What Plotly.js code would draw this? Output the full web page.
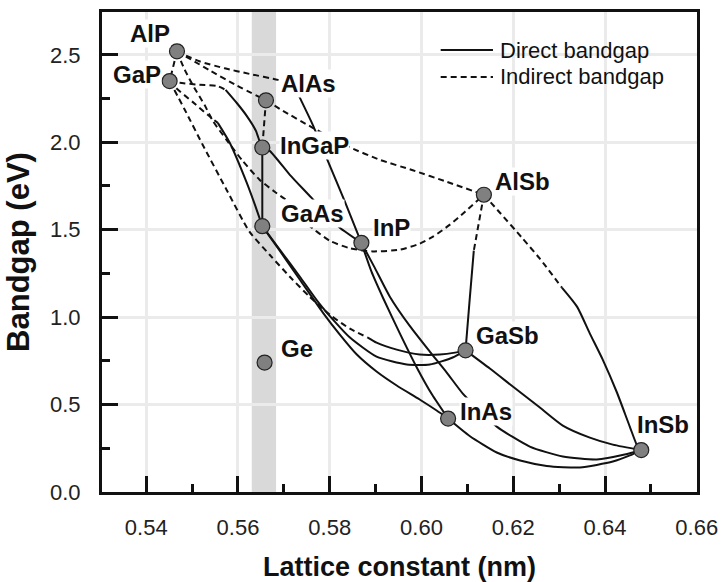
<!DOCTYPE html>
<html>
<head>
<meta charset="utf-8">
<script src="https://cdn.plot.ly/plotly-3.0.1.min.js"></script>
<style>
html,body{margin:0;padding:0;background:#fff;}
#chart{width:721px;height:582px;}
</style>
</head>
<body>
<div id="chart"></div>
<script>
// ---------- data ----------
const compounds  = ['AlP','GaP','AlAs','InGaP','GaAs','InP','AlSb','GaSb','Ge','InAs','InSb'];
const latticeNm  = [0.5467,0.5451,0.5661,0.5653,0.5653,0.5869,0.6136,0.6096,0.5658,0.6058,0.6479];
const bandgapEv  = [2.52,2.35,2.24,1.97,1.52,1.425,1.70,0.81,0.74,0.42,0.24];

const gaasBand   = [0.5630,0.5683];

// indirect (dashed) and direct (solid) branches of the alloys
const AlGaP_ind_x = [0.5467,0.5451];
const AlGaP_ind_y = [2.52,2.35];

const AlPAs_ind_x = [0.5467,0.5538,0.5597,0.5661];
const AlPAs_ind_y = [2.52,2.412,2.325,2.24];

const AlInP_ind_x = [0.5467,0.5516,0.5571,0.5625,0.5687,0.5720];
const AlInP_ind_y = [2.52,2.463,2.423,2.391,2.357,2.334];
const AlInP_dir_x = [0.5720,0.5735,0.5763,0.5793,0.5833,0.5869];
const AlInP_dir_y = [2.334,2.254,2.100,1.911,1.660,1.425];

const GaInP_ind_x = [0.5451,0.5473,0.5516,0.5553,0.5573];
const GaInP_ind_y = [2.35,2.340,2.329,2.323,2.300];
const GaInP_dir_x = [0.5573,0.5597,0.5619,0.5639,0.5653,0.5669,0.5713,0.5760,0.5791,0.5822,0.5869];
const GaInP_dir_y = [2.300,2.226,2.151,2.066,1.97,1.951,1.814,1.683,1.591,1.511,1.425];

const AlGaAs_ind_x = [0.5661,0.5653];
const AlGaAs_ind_y = [2.24,1.97];
const AlGaAs_dir_x = [0.5653,0.5653];
const AlGaAs_dir_y = [1.97,1.52];

const AlAsSb_ind_x = [0.5661,0.5698,0.5763,0.5844,0.5909,0.5981,0.6055,0.6136];
const AlAsSb_ind_y = [2.24,2.180,2.083,1.971,1.900,1.840,1.774,1.70];

const AlPSb_ind_x = [0.5467,0.5484,0.5505,0.5527,0.5545,0.5575,0.5610,0.5647,0.5680,0.5713,0.5735,0.5756,0.5800,0.5844,0.5894,0.5953,0.5996,0.6025,0.6062,0.6095,0.6136];
const AlPSb_ind_y = [2.52,2.414,2.311,2.214,2.123,2.014,1.894,1.786,1.717,1.654,1.591,1.523,1.437,1.394,1.376,1.386,1.420,1.460,1.529,1.603,1.70];

const GaAsP_ind_x = [0.5451,0.5462,0.5501,0.5534,0.5556];
const GaAsP_ind_y = [2.35,2.317,2.231,2.157,2.111];
const GaAsP_dir_x = [0.5556,0.5582,0.5619,0.5636,0.5653];
const GaAsP_dir_y = [2.111,1.997,1.769,1.649,1.52];

const GaPSb_ind_x = [0.5451,0.5484,0.5523,0.5575,0.5625,0.5669,0.5713,0.5756,0.5800,0.5844,0.5883];
const GaPSb_ind_y = [2.35,2.186,1.986,1.729,1.489,1.357,1.231,1.117,1.014,0.934,0.883];
const GaPSb_dir_x = [0.5883,0.5902,0.5946,0.5996,0.6040,0.6073,0.6096];
const GaPSb_dir_y = [0.883,0.854,0.814,0.786,0.786,0.797,0.81];

const GaAsSb_dir_x = [0.5653,0.5691,0.5735,0.5774,0.5811,0.5844,0.5902,0.5968,0.6018,0.6068,0.6096];
const GaAsSb_dir_y = [1.52,1.386,1.231,1.089,0.974,0.883,0.774,0.729,0.729,0.769,0.81];

const GaInAs_dir_x = [0.5653,0.5691,0.5735,0.5785,0.5822,0.5859,0.5902,0.5946,0.5996,0.6033,0.6058];
const GaInAs_dir_y = [1.52,1.380,1.214,1.026,0.900,0.786,0.689,0.609,0.529,0.466,0.42];

const InPAs_dir_x = [0.5869,0.5891,0.5916,0.5953,0.5990,0.6023,0.6058];
const InPAs_dir_y = [1.425,1.260,1.111,0.906,0.711,0.557,0.42];

const InPSb_dir_x = [0.5869,0.5898,0.5931,0.5974,0.6018,0.6055,0.6090,0.6127,0.6164,0.6236,0.6308,0.6382,0.6443,0.6479];
const InPSb_dir_y = [1.425,1.283,1.117,0.951,0.803,0.683,0.563,0.466,0.374,0.260,0.203,0.186,0.214,0.24];

const InAsSb_dir_x = [0.6058,0.6105,0.6164,0.6215,0.6273,0.6345,0.6417,0.6454,0.6479];
const InAsSb_dir_y = [0.42,0.320,0.226,0.180,0.149,0.140,0.174,0.209,0.24];

const GaInSb_dir_x = [0.6096,0.6149,0.6199,0.6258,0.6308,0.6367,0.6417,0.6479];
const GaInSb_dir_y = [0.81,0.706,0.603,0.483,0.380,0.311,0.271,0.24];

const AlGaSb_ind_x = [0.6136,0.6114];
const AlGaSb_ind_y = [1.70,1.38];
const AlGaSb_dir_x = [0.6114,0.6105,0.6096];
const AlGaSb_dir_y = [1.38,1.10,0.81];

const AlInSb_ind_x = [0.6136,0.6171,0.6219,0.6258,0.6306];
const AlInSb_ind_y = [1.70,1.597,1.454,1.334,1.169];
const AlInSb_dir_x = [0.6306,0.6339,0.6367,0.6395,0.6426,0.6454,0.6472,0.6479];
const AlInSb_dir_y = [1.169,1.060,0.906,0.757,0.569,0.374,0.254,0.24];

const legendLabels = ['Direct bandgap','Indirect bandgap'];

// ---------- styling ----------
const SANS = "'Liberation Sans',Arial,Helvetica,sans-serif";
const INK = '#111111';
const DASH = '6px,4px';

const branches = [
  [AlGaP_ind_x, AlGaP_ind_y, 'ind'],
  [AlPAs_ind_x, AlPAs_ind_y, 'ind'],
  [AlInP_ind_x, AlInP_ind_y, 'ind'], [AlInP_dir_x, AlInP_dir_y, 'dir'],
  [GaInP_ind_x, GaInP_ind_y, 'ind'], [GaInP_dir_x, GaInP_dir_y, 'dir'],
  [AlGaAs_ind_x, AlGaAs_ind_y, 'ind'], [AlGaAs_dir_x, AlGaAs_dir_y, 'dir'],
  [AlAsSb_ind_x, AlAsSb_ind_y, 'ind'],
  [AlPSb_ind_x, AlPSb_ind_y, 'ind'],
  [GaAsP_ind_x, GaAsP_ind_y, 'ind'], [GaAsP_dir_x, GaAsP_dir_y, 'dir'],
  [GaPSb_ind_x, GaPSb_ind_y, 'ind'], [GaPSb_dir_x, GaPSb_dir_y, 'dir'],
  [GaAsSb_dir_x, GaAsSb_dir_y, 'dir'],
  [GaInAs_dir_x, GaInAs_dir_y, 'dir'],
  [InPAs_dir_x, InPAs_dir_y, 'dir'],
  [InPSb_dir_x, InPSb_dir_y, 'dir'],
  [InAsSb_dir_x, InAsSb_dir_y, 'dir'],
  [GaInSb_dir_x, GaInSb_dir_y, 'dir'],
  [AlGaSb_ind_x, AlGaSb_ind_y, 'ind'], [AlGaSb_dir_x, AlGaSb_dir_y, 'dir'],
  [AlInSb_ind_x, AlInSb_ind_y, 'ind'], [AlInSb_dir_x, AlInSb_dir_y, 'dir']
];

const traces = branches.map(([x, y, kind]) => ({
  type: 'scatter', mode: 'lines', x: x, y: y,
  name: kind === 'dir' ? legendLabels[0] : legendLabels[1],
  line: {color: INK, width: 2, dash: kind === 'dir' ? 'solid' : DASH,
         shape: x.length > 2 ? 'spline' : 'linear', smoothing: 0.6},
  hoverinfo: 'skip', showlegend: false
}));

traces.push({
  type: 'scatter', mode: 'markers', x: latticeNm, y: bandgapEv, text: compounds,
  marker: {size: 15, color: '#808080', line: {color: '#222', width: 1.2}},
  hoverinfo: 'skip', showlegend: false
});

// label offsets (px) relative to each point: [xshift, yshift]
const labelShift = {
  AlP: [-27, 17.5], GaP: [-33, 7], AlAs: [43, 17], InGaP: [52, 2],
  GaAs: [50, 13], InP: [30, 15], AlSb: [38.5, 13], GaSb: [42, 15],
  Ge: [32, 14], InAs: [38, 7.5], InSb: [22, 26]
};

const annotations = compounds.map((c, i) => ({
  x: latticeNm[i], y: bandgapEv[i], xref: 'x', yref: 'y',
  text: c, showarrow: false, xanchor: 'center', yanchor: 'middle',
  xshift: labelShift[c][0], yshift: labelShift[c][1],
  font: {family: SANS, size: 24, color: INK, weight: 'bold'},
  bgcolor: '#ffffff', borderpad: 0
}));

// manual legend
const legX0 = 0.5692, legX1 = 0.6571, legTx = 0.6655;
const legY = [0.9208, 0.8646];
annotations.push(
  {xref:'paper', yref:'paper', x: legTx, y: legY[0], text: legendLabels[0], showarrow:false,
   xanchor:'left', yanchor:'middle', font:{family:SANS, size:22, color:INK}},
  {xref:'paper', yref:'paper', x: legTx, y: legY[1], text: legendLabels[1], showarrow:false,
   xanchor:'left', yanchor:'middle', font:{family:SANS, size:22, color:INK}}
);

const shapes = [
  {type:'rect', xref:'x', yref:'paper', x0: gaasBand[0], x1: gaasBand[1], y0: 0, y1: 1,
   fillcolor:'#d9d9d9', line:{width:0}, layer:'below'},
  {type:'line', xref:'paper', yref:'paper', x0: legX0, x1: legX1, y0: legY[0], y1: legY[0],
   line:{color: INK, width: 2}},
  {type:'line', xref:'paper', yref:'paper', x0: legX0, x1: legX1, y0: legY[1], y1: legY[1],
   line:{color: INK, width: 2, dash: DASH}}
];

const axisCommon = {
  ticks: 'inside', ticklen: 16, tickwidth: 3, tickcolor: INK,
  showline: true, linewidth: 3, linecolor: INK, mirror: true,
  showgrid: true, gridcolor: '#ebebeb', gridwidth: 3, zeroline: false,
  tickfont: {family: SANS, size: 22, color: '#222'},
  automargin: false, fixedrange: true
};

const layout = {
  width: 721, height: 582,
  margin: {l: 102, r: 24, t: 12, b: 90, pad: 0},
  paper_bgcolor: '#ffffff', plot_bgcolor: '#ffffff',
  showlegend: false, hovermode: false,
  xaxis: Object.assign({}, axisCommon, {
    range: [0.53036, 0.66005], tickmode: 'linear', tick0: 0.54, dtick: 0.02, tickformat: '.2f',
    minor: {tick0: 0.53, dtick: 0.01, ticks: 'inside', ticklen: 8, tickwidth: 3, tickcolor: INK, showgrid: false},
    ticklabelstandoff: 14,
    title: {text: 'Lattice constant (nm)', font: {family: SANS, size: 27, color: INK, weight: 'bold'}, standoff: 21}
  }),
  yaxis: Object.assign({}, axisCommon, {
    range: [0, 2.745], tickmode: 'linear', tick0: 0, dtick: 0.5, tickformat: '.1f',
    minor: {tick0: 0, dtick: 0.25, ticks: 'inside', ticklen: 8, tickwidth: 3, tickcolor: INK, showgrid: false},
    ticklabelstandoff: 14,
    title: {text: 'Bandgap (eV)', font: {family: SANS, size: 31, color: INK, weight: 'bold'}, standoff: 12}
  }),
  shapes: shapes,
  annotations: annotations
};

Plotly.newPlot('chart', traces, layout, {staticPlot: true, displayModeBar: false});
</script>
</body>
</html>
